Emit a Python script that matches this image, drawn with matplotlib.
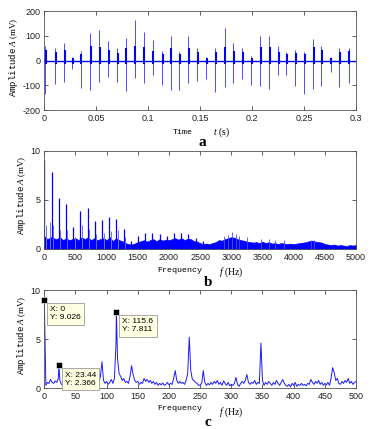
import numpy as np
import matplotlib
matplotlib.use("Agg")
import matplotlib.pyplot as plt
from matplotlib import font_manager

# panel a: one entry per heart beat (time, spike top, spike bottom, burst height)
beat_t = [0.0010, 0.0103, 0.0187, 0.0270, 0.0350, 0.0443, 0.0527, 0.0611, 0.0698,
          0.0782, 0.0869, 0.0955, 0.1042, 0.1130, 0.1216, 0.1300, 0.1387, 0.1467,
          0.1560, 0.1645, 0.1735, 0.1820, 0.1905, 0.1990, 0.2077, 0.2160, 0.2247,
          0.2330, 0.2415, 0.2500, 0.2584, 0.2667, 0.2755, 0.2840, 0.2928]
beat_pos = [61, 53, 71, 15, 40, 111, 124, 78, 50, 91, 165, 118, 84, 40, 98, 37, 98, 53,
            14, 53, 131, 71, 53, 20, 98, 98, 61, 37, 43, 37, 87, 61, 15, 50, 53]
beat_neg = [-135, -95, -87, -35, -111, -118, -87, -68, -87, -125, -70, -90, -57, -98,
            -118, -118, -90, -82, -75, -129, -108, -90, -73, -98, -104, -114, -57, -57,
            -104, -135, -114, -104, -44, -108, -90]
beat_burst = [45, 35, 45, 10, 25, 60, 55, 45, 30, 50, 60, 55, 40, 25, 50, 25, 50, 35,
              10, 35, 55, 40, 35, 12, 55, 55, 35, 25, 30, 25, 55, 45, 10, 35, 40]

# panel b: spectrum 0-5000 Hz
band_f = np.linspace(0, 5000, 101)
band_a = [1.3, 1.0, 1.2, 1.1, 1.0, 1.2, 0.9, 1.1, 0.9, 1.0,
          1.1, 0.9, 1.2, 1.0, 1.2, 0.9, 1.1, 0.9, 1.0, 1.1,
          0.9, 1.2, 0.8, 1.1, 0.9, 0.8, 0.6, 0.5, 0.45, 0.55,
          0.7, 0.8, 0.9, 0.75, 0.9, 1.0, 0.8, 1.0, 0.85, 0.95,
          0.9, 1.0, 1.1, 0.95, 1.1, 0.9, 1.05, 1.0, 0.8, 0.75,
          0.6, 0.5, 0.55, 0.5, 0.6, 0.7, 0.9, 0.85, 1.0, 1.1,
          1.2, 1.15, 1.0, 0.9, 0.85, 0.75, 0.7, 0.65, 0.7, 0.6,
          0.75, 0.6, 0.7, 0.55, 0.6, 0.5, 0.6, 0.55, 0.5, 0.55,
          0.5, 0.55, 0.6, 0.65, 0.7, 0.8, 0.85, 0.75, 0.7, 0.65,
          0.5, 0.45, 0.4, 0.45, 0.35, 0.4, 0.35, 0.3, 0.4, 0.35, 0.4]
harm_f = [0, 115.6, 231, 347, 462, 578, 694, 809, 925, 1040, 1156, 1272, 1387,
          1503, 1619, 1734, 1850, 1965, 2081, 2197, 2312, 2428, 2543]
harm_a = [9.03, 7.85, 5.2, 4.6, 2.2, 3.9, 4.15, 2.8, 3.0, 3.25, 3.05, 2.0, 0.8,
          1.3, 1.65, 1.6, 1.5, 1.35, 1.6, 1.6, 1.5, 1.1, 0.8]
side_f = [23, 92, 140, 255, 372, 487, 603, 718, 834, 950, 1065, 1180, 1296]
side_a = [2.4, 2.7, 2.4, 1.9, 1.9, 1.2, 2.4, 2.0, 1.5, 1.6, 1.8, 1.9, 1.2]
minor_f = [2890, 2950, 3005, 3070, 3120, 3250, 3480, 3600, 3700, 3850, 4280, 4320]
minor_a = [1.3, 1.45, 1.75, 1.5, 1.3, 1.2, 1.0, 1.0, 0.95, 0.9, 0.95, 0.95]

# panel c: spectrum 0-500 Hz, 2.5 Hz bins
zoom_f = np.linspace(2.5, 500, 200)
zoom_a = [0.3, 0.6, 0.5, 0.9, 0.6, 0.5, 0.75, 0.6, 1.0, 0.8,
          0.4, 0.35, 0.45, 0.3, 0.4, 0.3, 0.35, 0.5, 0.3, 0.45,
          0.35, 0.3, 0.5, 0.4, 0.6, 0.35, 0.45, 0.7, 0.5, 0.35,
          0.45, 0.3, 0.5, 0.4, 0.6, 1.2, 2.7, 0.8, 0.5, 0.7,
          0.4, 0.6, 0.9, 0.5, 1.0, 4.5, 3.0, 1.5, 1.2, 0.8,
          1.0, 0.6, 0.7, 0.5, 1.2, 2.3, 1.4, 0.8, 0.6, 0.7,
          0.4, 0.6, 0.5, 1.0, 0.7, 0.9, 0.6, 0.8, 0.5, 0.7,
          0.4, 0.6, 0.3, 0.5, 0.35, 0.55, 0.3, 0.4, 0.6, 0.35,
          0.5, 0.4, 1.0, 1.8, 0.8, 0.5, 0.7, 0.5, 0.6, 0.4,
          0.8, 1.5, 5.2, 1.8, 0.9, 0.8, 0.6, 0.5, 0.3, 0.35,
          0.5, 1.8, 0.6, 0.3, 0.5, 0.35, 0.6, 0.4, 0.7, 0.5,
          0.8, 0.4, 0.6, 0.3, 0.75, 0.5, 0.3, 0.6, 0.25, 0.4,
          0.3, 0.5, 1.1, 0.4, 0.2, 0.5, 0.7, 0.5, 0.8, 1.4,
          0.6, 0.4, 0.6, 0.5, 0.8, 0.4, 0.6, 0.5, 4.6, 0.8,
          0.3, 0.6, 0.4, 0.7, 0.5, 0.3, 0.6, 0.4, 0.8, 0.5,
          0.3, 0.6, 0.9, 0.5, 0.3, 0.2, 0.4, 0.15, 0.5, 0.3,
          0.6, 0.2, 0.4, 0.3, 0.5, 0.3, 0.4, 0.25, 0.5, 0.4,
          0.9, 0.6, 0.4, 0.7, 0.5, 0.8, 0.4, 0.6, 0.3, 0.5,
          0.35, 0.6, 0.3, 1.0, 2.1, 1.6, 0.8, 1.0, 0.5, 0.4,
          0.7, 0.5, 0.8, 0.6, 1.0, 0.5, 0.7, 0.4, 0.6, 0.7]
tip_f = [0, 23.44, 115.6]
tip_a = [9.026, 2.366, 7.811]
tip_text = ["X: 0\nY: 9.026", "X: 23.44\nY: 2.366", "X: 115.6\nY: 7.811"]

installed = {f.name for f in font_manager.fontManager.ttflist}
tick_font = "Liberation Sans Narrow" if "Liberation Sans Narrow" in installed else "Liberation Sans"
tick_size = 7 if tick_font == "Liberation Sans Narrow" else 6.5

plt.rcParams["axes.unicode_minus"] = False
plt.rcParams["font.family"] = [tick_font, "DejaVu Sans"]
plt.rcParams["mathtext.fontset"] = "custom"
plt.rcParams["mathtext.rm"] = "Liberation Serif"
plt.rcParams["mathtext.it"] = "Liberation Serif:italic"
plt.rcParams["mathtext.tt"] = "Liberation Mono"

W, H = 373, 429
fig = plt.figure(figsize=(W / 100, H / 100), dpi=100)


def rect(top, bottom):
    return [44.3 / W, 1 - bottom / H, (356 - 44.3) / W, (bottom - top) / H]


def style(ax):
    ax.tick_params(direction="in", top=True, right=True, length=3, width=0.5,
                   labelsize=tick_size, colors="#222222")
    ax.tick_params(axis="x", pad=3)
    ax.tick_params(axis="y", pad=2.5)
    for s in ax.spines.values():
        s.set_linewidth(0.6)
        s.set_color("#555555")


def put(x, y, s, **kw):
    fig.text(x / W, 1 - y / H, s, ha="center", va="center", **kw)


ylab = r"$\mathtt{Amplitude}\ \mathit{A}\ \mathrm{(mV)}$"
blue = "#0000ff"

# ---- a ----
ax1 = fig.add_axes(rect(11.3, 110))
bt = np.array(beat_t)
ax1.axhline(0, color=blue, lw=1.0)
ax1.vlines(bt, beat_neg, 0, color="#3030ff", lw=0.6)
ax1.vlines(bt, 0, beat_pos, color="#3030ff", lw=0.6)
ax1.vlines(bt + 0.0008, -12, beat_burst, color=blue, lw=1.5)
ax1.set_xlim(0, 0.3)
ax1.set_ylim(-200, 200)
ax1.set_xticks([0, 0.05, 0.1, 0.15, 0.2, 0.25, 0.3])
ax1.set_xticklabels(["0", "0.05", "0.1", "0.15", "0.2", "0.25", "0.3"])
ax1.set_yticks([-200, -100, 0, 100, 200])
style(ax1)

# ---- b ----
ax2 = fig.add_axes(rect(150.7, 249))
ax2.fill_between(band_f, 0, band_a, color=blue, lw=0.5)
ax2.vlines(side_f, 0, side_a, color="#7070ff", lw=0.7)
ax2.vlines(minor_f, 0, minor_a, color="#5050ff", lw=0.6)
ax2.vlines(harm_f, 0, harm_a, color=blue, lw=0.9)
ax2.set_xlim(0, 5000)
ax2.set_ylim(0, 10)
ax2.set_xticks(np.arange(0, 5001, 500))
ax2.set_yticks([0, 5, 10])
style(ax2)

# ---- c ----
ax3 = fig.add_axes(rect(290, 388.3))
cf = np.concatenate([tip_f, zoom_f])
ca = np.concatenate([tip_a, zoom_a])
order = np.argsort(cf)
ax3.plot(cf[order], ca[order], color="#1a1aff", lw=0.7)
ax3.plot(tip_f, tip_a, "s", color="black", ms=5, mec="white", mew=0.4, clip_on=False, zorder=5)
for f, a, s in zip(tip_f, tip_a, tip_text):
    ax3.annotate(s, (f, a), xytext=(6, -6.5), textcoords="offset pixels", ha="left", va="top",
                 fontsize=6, family="Liberation Sans", linespacing=1.25,
                 bbox=dict(boxstyle="square,pad=0.4", fc="#ffffe1", ec="#9a9a9a", lw=0.6),
                 annotation_clip=False, zorder=10)
ax3.set_xlim(0, 500)
ax3.set_ylim(0, 10)
ax3.set_xticks(np.arange(0, 501, 50))
ax3.set_yticks([0, 5, 10])
style(ax3)

# axis labels and panel letters
put(14, 57, ylab, rotation=90, fontsize=6.5)
put(22, 195, ylab, rotation=90, fontsize=6.5)
put(22, 335, ylab, rotation=90, fontsize=6.5)

put(183, 132, "Time", family="Liberation Mono", fontsize=6)
put(221, 132, r"$\mathit{t}\ \mathrm{(s)}$", fontsize=7)
put(202, 142, "a", family="Liberation Serif", weight="bold", fontsize=11)

put(180, 271, "Frequency", family="Liberation Mono", fontsize=6)
put(231, 272, r"$\mathit{f}\ \mathrm{(Hz)}$", fontsize=7)
put(208, 282, "b", family="Liberation Serif", weight="bold", fontsize=11)

put(180, 409, "Frequency", family="Liberation Mono", fontsize=6)
put(231, 412, r"$\mathit{f}\ \mathrm{(Hz)}$", fontsize=7)
put(208, 422, "c", family="Liberation Serif", weight="bold", fontsize=11)

fig.savefig("out.png", dpi=100)
